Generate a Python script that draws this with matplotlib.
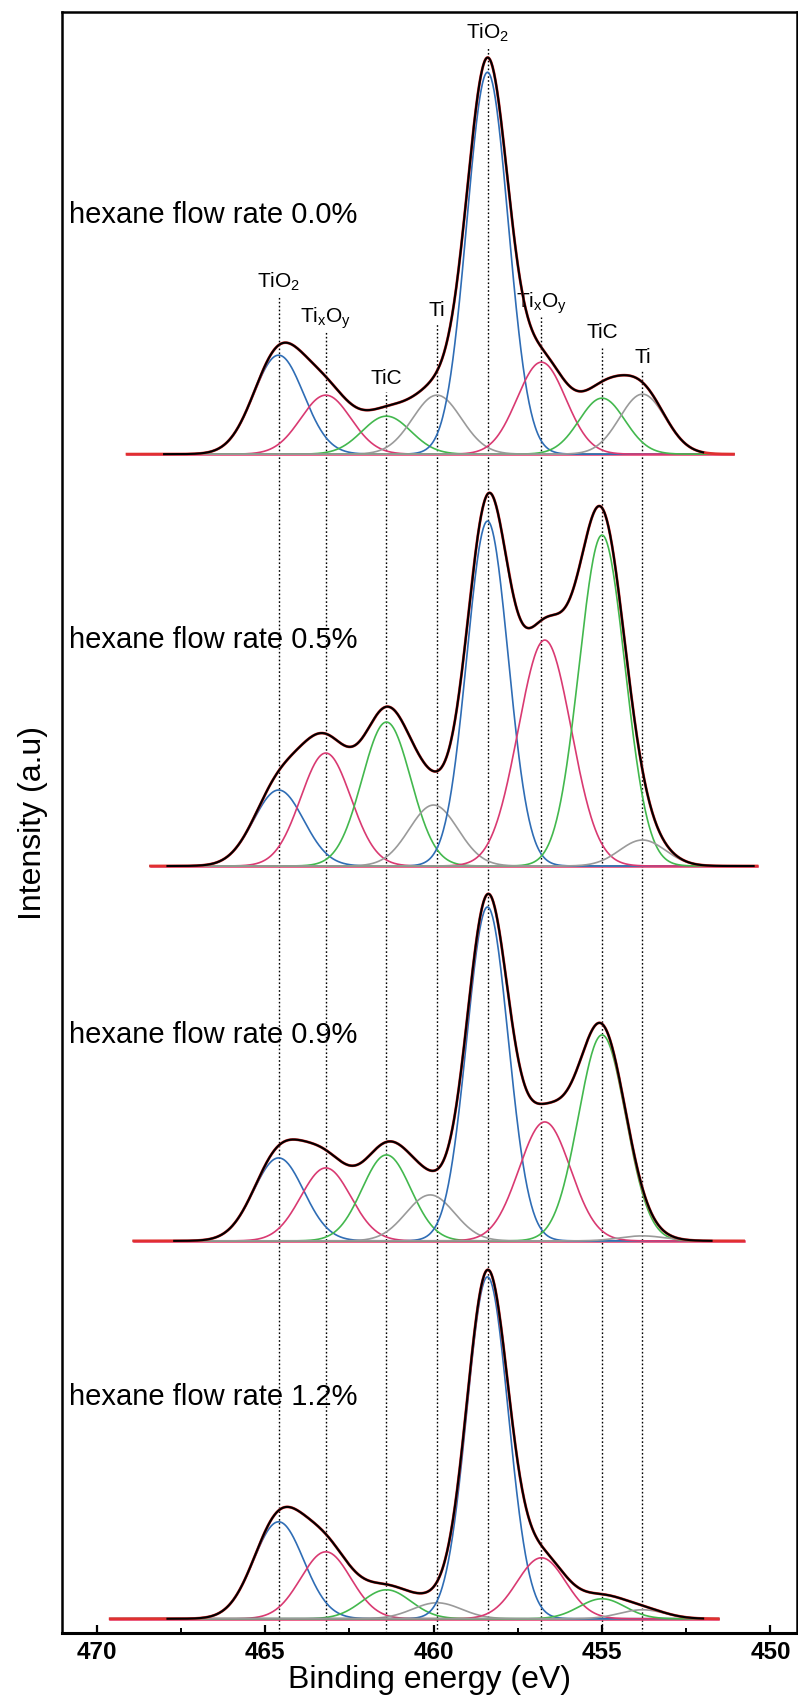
import numpy as np
import matplotlib
matplotlib.use("Agg")
import matplotlib.pyplot as plt
from matplotlib.ticker import MultipleLocator

plt.rcParams.update({
    "font.family": ["Liberation Sans", "DejaVu Sans"],
    "mathtext.fontset": "custom",
    "mathtext.rm": "Liberation Sans",
    "mathtext.it": "Liberation Sans",
})

# component names, in fit order
names = [r"TiO$_2$", r"Ti$_x$O$_y$", "TiC", "Ti",
         r"TiO$_2$", r"Ti$_x$O$_y$", "TiC", "Ti"]
colors = ["#2f6db5", "#d93a72", "#43b84e", "#9a9a9a",
          "#2f6db5", "#d93a72", "#43b84e", "#9a9a9a"]
# reference positions (dotted lines), eV
ref_pos = [464.6, 463.2, 461.4, 459.9, 458.4, 456.8, 455.0, 453.8]

# one spectrum per hexane flow rate
samples = ["hexane flow rate 0.0%", "hexane flow rate 0.5%",
           "hexane flow rate 0.9%", "hexane flow rate 1.2%"]
centers = [
    [464.6, 463.2, 461.4, 459.9, 458.4, 456.8, 455.0, 453.8],
    [464.6, 463.2, 461.4, 460.0, 458.4, 456.7, 455.0, 453.8],
    [464.6, 463.2, 461.4, 460.1, 458.4, 456.7, 455.0, 453.8],
    [464.6, 463.2, 461.4, 459.9, 458.4, 456.8, 455.0, 453.8],
]
heights = [
    [99, 59, 38, 59, 382, 92, 56, 60],
    [76, 113, 144, 61, 345, 226, 331, 26],
    [83, 73, 86, 46, 334, 119, 206, 5],
    [97, 67, 29, 16, 342, 61, 20, 9],
]
fwhm = [
    [1.75, 1.75, 1.7, 1.7, 1.45, 1.7, 1.6, 1.6],
    [1.75, 1.75, 1.7, 1.7, 1.45, 1.85, 1.6, 1.6],
    [1.75, 1.75, 1.7, 1.7, 1.45, 1.8, 1.65, 1.6],
    [1.75, 1.75, 1.7, 1.7, 1.45, 1.7, 1.6, 1.6],
]
baselines = [1179, 767, 392, 14]
baseline_range = [(469.1, 451.1), (468.4, 450.4), (468.9, 450.8), (469.6, 451.55)]
data_range = [(468.0, 452.0), (467.9, 450.5), (467.7, 451.75), (467.9, 452.0)]
label_y = [1418, 993, 598, 236]

# peak labels above the top spectrum
tag_y = [1351, 1315, 1255, 1323, 1600, 1330, 1301, 1276]


def gauss(x, c, h, w):
    s = w / 2.3548
    return h * np.exp(-(x - c) ** 2 / (2 * s * s))


fig = plt.figure(figsize=(7.98, 17.04), dpi=100)
ax = fig.add_axes([0.0773, 0.0418, 0.922, 0.951])

for k in range(4):
    b = baselines[k]
    x = np.linspace(baseline_range[k][0], baseline_range[k][1], 900)
    total = np.zeros_like(x)
    for c, h, w, col in zip(centers[k], heights[k], fwhm[k], colors):
        g = gauss(x, c, h, w)
        total += g
        ax.plot(x, b + g, color=col, lw=1.2, zorder=3)
    ax.plot(x, np.full_like(x, b), color="#e8356a", lw=1.8, zorder=2)
    ax.plot(x, b + total, color="#e03030", lw=2.0, zorder=4)
    xd = np.linspace(data_range[k][0], data_range[k][1], 700)
    td = np.zeros_like(xd)
    for c, h, w in zip(centers[k], heights[k], fwhm[k]):
        td += gauss(xd, c, h, w)
    ax.plot(xd, b + td, color="black", lw=1.5, zorder=5)
    ax.text(470.82, label_y[k], samples[k], fontsize=21, va="center", ha="left", zorder=6)

for c, name, ty in zip(ref_pos, names, tag_y):
    ax.vlines(c, 0, ty - 14, colors="black", linestyles=(0, (1.2, 1.6)), lw=1.0, zorder=1)
    ax.text(c, ty, name, fontsize=15, ha="center", va="center")

ax.set_xlim(471.04, 449.2)
ax.set_ylim(0, 1621)
ax.xaxis.set_major_locator(MultipleLocator(5))
ax.xaxis.set_minor_locator(MultipleLocator(2.5))
ax.tick_params(axis="x", which="major", direction="in", length=6, width=1.6,
               labelsize=17.5, pad=6)
ax.tick_params(axis="x", which="minor", direction="in", length=3.5, width=1.4)
for lab in ax.get_xticklabels():
    lab.set_fontweight("bold")
ax.set_yticks([])
for sp in ax.spines.values():
    sp.set_linewidth(1.8)
ax.spines["bottom"].set_linewidth(2.2)

ax.set_xlabel("Binding energy (eV)", fontsize=23, labelpad=1)
ax.set_ylabel("Intensity (a.u)", fontsize=23, labelpad=10)

fig.savefig("out.png", dpi=100)
